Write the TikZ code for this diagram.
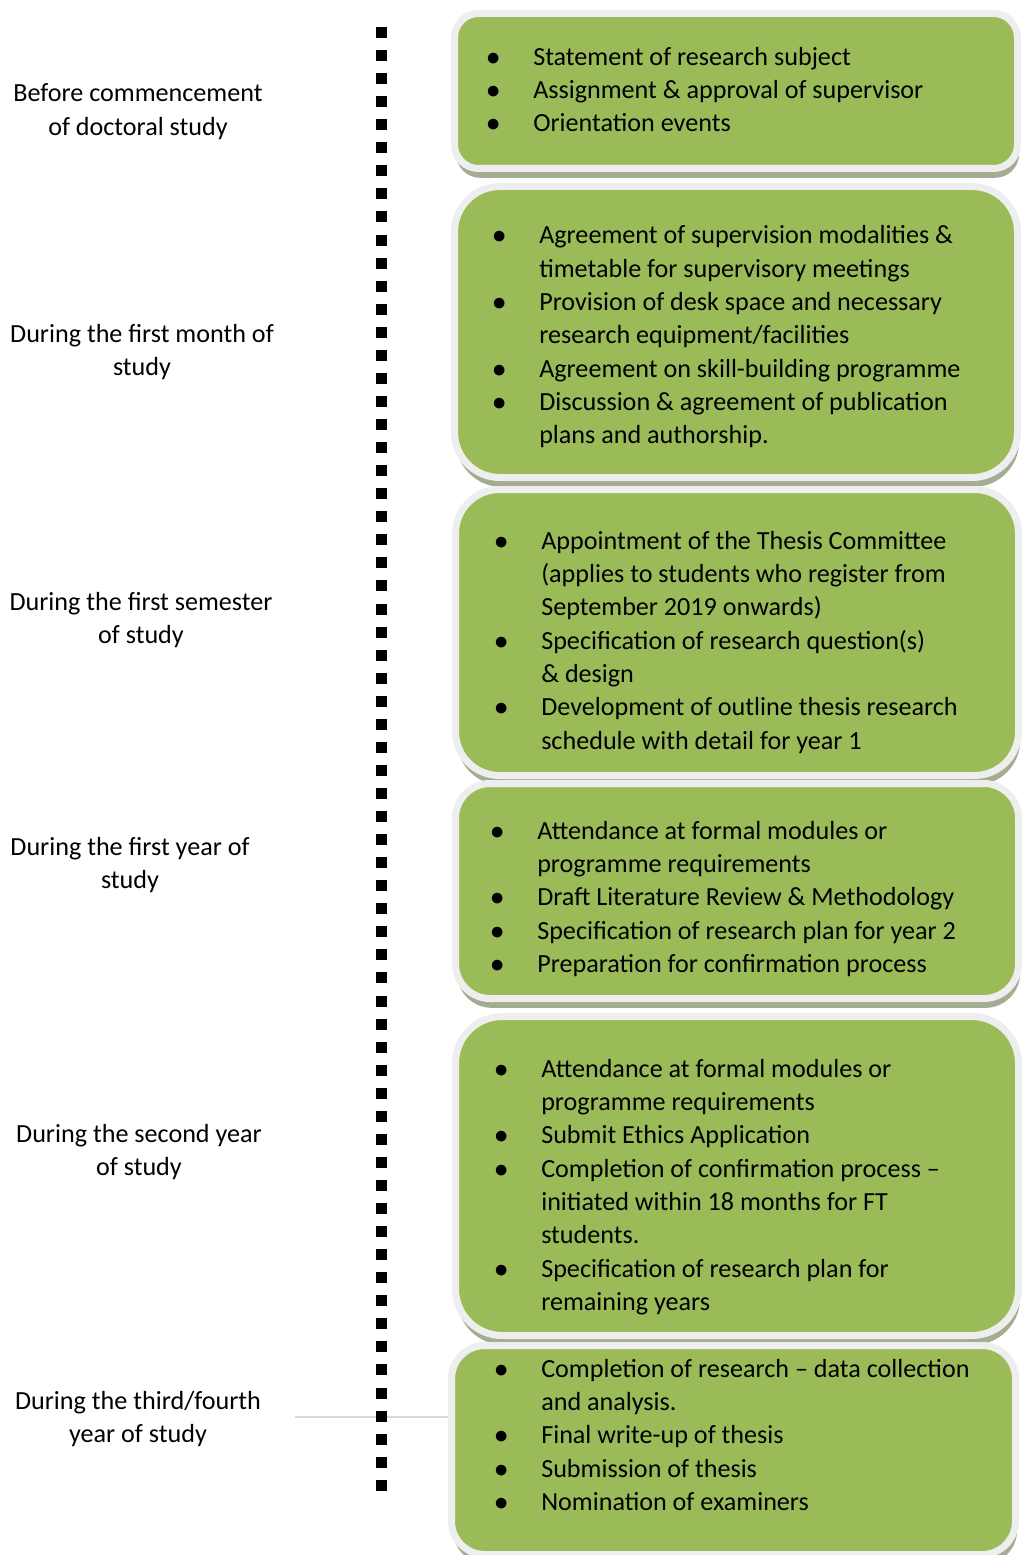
\documentclass[tikz,border=0pt]{standalone}
\usepackage{fontspec}
\setmainfont{Carlito}
\usepackage{array}
\usetikzlibrary{shadows}
\definecolor{boxgreen}{RGB}{155,187,89}
\definecolor{boxrim}{RGB}{238,238,238}
\definecolor{boxshade}{RGB}{164,172,145}
\definecolor{tickgray}{RGB}{217,217,217}
\tikzset{
  stagebox/.style={rectangle, fill=boxgreen, draw=boxrim, line width=5.25pt,
    drop shadow={shadow xshift=1.2pt, shadow yshift=-7pt, fill=boxshade, opacity=1}},
  stagelabel/.style={align=center, inner sep=0pt, font=\fontsize{19.6}{25.4}\selectfont},
  itemlist/.style={anchor=west, inner sep=0pt, font=\fontsize{19.6}{25}\selectfont},
}
\newcommand{\bul}{$\bullet$}
\newenvironment{items}{\begin{tabular}{@{}p{35.25pt}@{}l@{}}}{\end{tabular}}

\begin{document}
\begin{tikzpicture}[x=0.75pt, y=-0.75pt]
    \useasboundingbox (0,0) rectangle (1021,1555);
    % tick line to last stage
    \coordinate (tick) at (295,1417);
    % stage boxes
    \node[stagebox, rounded corners=18pt, minimum width=422.25pt, minimum height=116.25pt] (stage1) at (736,91) {};
    \node[stagebox, rounded corners=34pt, minimum width=422.25pt, minimum height=218.25pt] (stage2) at (736,332) {};
    \node[stagebox, rounded corners=33pt, minimum width=422.25pt, minimum height=214.5pt] (stage3) at (737,632.5) {};
    \node[stagebox, rounded corners=26pt, minimum width=422.25pt, minimum height=161.25pt] (stage4) at (737,891) {};
    \node[stagebox, rounded corners=35pt, minimum width=422.25pt, minimum height=239.25pt] (stage5) at (737,1176) {};
    \draw[tickgray, line width=1.5pt] (tick) -- (tick -| stage5.west);
    \node[stagebox, rounded corners=25pt, minimum width=423pt, minimum height=156.75pt] (stage6) at (733.5,1450) {};
    % timeline
    \foreach \i in {0,...,63} { \fill (375.5,27+\i*23.06) rectangle ++(11,11); }
    % stage texts
    \node[itemlist] (items1) at (486,92) {\begin{items}
      \bul & Statement of research subject\\
      \bul & Assignment \& approval of supervisor\\
      \bul & Orientation events
    \end{items}};
    \node[itemlist] (items2) at (492,337) {\begin{items}
      \bul & Agreement of supervision modalities \&\\
           & timetable for supervisory meetings\\
      \bul & Provision of desk space and necessary\\
           & research equipment/facilities\\
      \bul & Agreement on skill-building programme\\
      \bul & Discussion \& agreement of publication\\
           & plans and authorship.
    \end{items}};
    \node[itemlist] (items3) at (494,642.5) {\begin{items}
      \bul & Appointment of the Thesis Committee\\
           & (applies to students who register from\\
           & September 2019 onwards)\\
      \bul & Specification of research question(s)\\
           & \& design\\
      \bul & Development of outline thesis research\\
           & schedule with detail for year 1
    \end{items}};
    \node[itemlist] (items4) at (490,899) {\begin{items}
      \bul & Attendance at formal modules or\\
           & programme requirements\\
      \bul & Draft Literature Review \& Methodology\\
      \bul & Specification of research plan for year 2\\
      \bul & Preparation for confirmation process
    \end{items}};
    \node[itemlist] (items5) at (494,1187) {\begin{items}
      \bul & Attendance at formal modules or\\
           & programme requirements\\
      \bul & Submit Ethics Application\\
      \bul & Completion of confirmation process –\\
           & initiated within 18 months for FT\\
           & students.\\
      \bul & Specification of research plan for\\
           & remaining years
    \end{items}};
    \node[itemlist] (items6) at (494,1437) {\begin{items}
      \bul & Completion of research – data collection\\
           & and analysis.\\
      \bul & Final write-up of thesis\\
      \bul & Submission of thesis\\
      \bul & Nomination of examiners
    \end{items}};
    % time labels
    \node[stagelabel] (when1) at (138,112) {Before commencement\\of doctoral study};
    \node[stagelabel] (when2) at (142,352) {During the first month of\\study};
    \node[stagelabel] (when3) at (141,620) {During the first semester\\of study};
    \node[stagelabel] (when4) at (130,865) {During the first year of\\study};
    \node[stagelabel] (when5) at (139,1152) {During the second year\\of study};
    \node[stagelabel] (when6) at (138,1419) {During the third/fourth\\year of study};
  \end{tikzpicture}
\end{document}
